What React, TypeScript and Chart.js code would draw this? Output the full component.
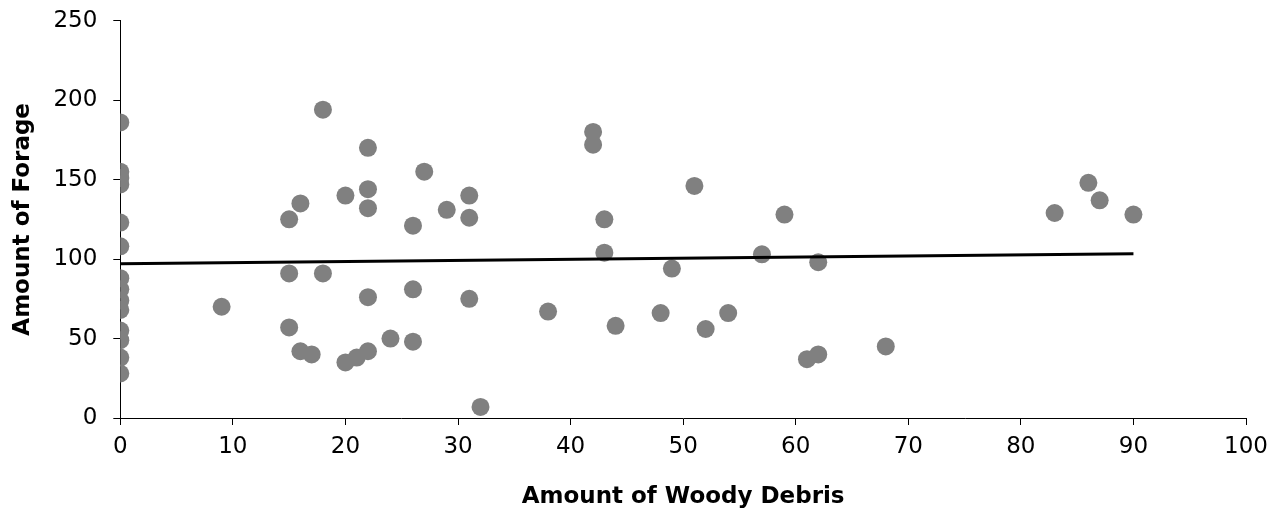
import { useEffect, useRef } from "react";
import { Chart, registerables } from "chart.js";

Chart.register(...registerables);

// Amount of Woody Debris (x) and Amount of Forage (y) for each observation
const debrisX = [
  0, 0, 0, 0, 0, 0, 0, 0, 0, 0, 0, 0, 0, 0,
  9,
  15, 15, 15,
  16, 16,
  17,
  18, 18,
  20, 20,
  21,
  22, 22, 22, 22, 22,
  24,
  26, 26, 26,
  27,
  29,
  31, 31, 31,
  32,
  38,
  42, 42,
  43, 43,
  44,
  48,
  49,
  51,
  52,
  54,
  57,
  59,
  61,
  62, 62,
  68,
  83,
  86,
  87,
  90,
];
const forageY = [
  186, 155, 151, 147, 123, 108, 88, 81, 74, 68, 55, 49, 38, 28,
  70,
  125, 91, 57,
  135, 42,
  40,
  194, 91,
  140, 35,
  38,
  170, 144, 132, 76, 42,
  50,
  121, 81, 48,
  155,
  131,
  140, 126, 75,
  7,
  67,
  180, 172,
  125, 104,
  58,
  66,
  94,
  146,
  56,
  66,
  103,
  128,
  37,
  98, 40,
  45,
  129,
  148,
  137,
  128,
];

// Linear trendline end points
const trendX = [0, 90];
const trendY = [97.1, 103.4];

const xTitle = "Amount of Woody Debris";
const yTitle = "Amount of Forage";

export default function App() {
  const canvasRef = useRef<HTMLCanvasElement | null>(null);

  useEffect(() => {
    const canvas = canvasRef.current;
    if (!canvas) return;
    const font = "'DejaVu Sans', 'Liberation Sans', Arial, sans-serif";
    const chart = new Chart(canvas, {
      type: "scatter",
      data: {
        datasets: [
          {
            type: "line",
            label: "Trend",
            data: trendX.map((x, i) => ({ x, y: trendY[i] })),
            borderColor: "#000000",
            borderWidth: 3,
            pointRadius: 0,
            pointHoverRadius: 0,
            fill: false,
            order: 0,
          },
          {
            type: "scatter",
            label: "Forage",
            data: debrisX.map((x, i) => ({ x, y: forageY[i] })),
            backgroundColor: "#808080",
            borderColor: "#808080",
            borderWidth: 0,
            pointRadius: 9,
            pointHoverRadius: 9,
            order: 1,
          },
        ],
      },
      options: {
        responsive: false,
        animation: false,
        layout: { autoPadding: false, padding: { left: 0, right: 25, top: 12.7, bottom: 0 } },
        plugins: {
          legend: { display: false },
          tooltip: { enabled: false },
        },
        scales: {
          x: {
            type: "linear",
            min: 0,
            max: 100,
            ticks: {
              stepSize: 10,
              color: "#000000",
              padding: 11,
              font: { family: font, size: 23, lineHeight: 1 },
            },
            grid: {
              display: true,
              drawOnChartArea: false,
              drawTicks: true,
              tickLength: 7,
              color: "#000000",
              lineWidth: 1,
            },
            border: { display: true, color: "#000000", width: 1 },
            title: {
              display: true,
              text: xTitle,
              color: "#000000",
              padding: { top: 0, bottom: 0 },
              font: { family: font, size: 23, weight: "bold", lineHeight: 1 },
            },
            afterFit: (scale: any) => {
              scale.height = 91;
              scale.paddingLeft = 0;
              scale.paddingRight = 0;
              scale.paddingTop = 0;
              scale.paddingBottom = 0;
            },
          },
          y: {
            type: "linear",
            min: 0,
            max: 250,
            ticks: {
              stepSize: 50,
              color: "#000000",
              padding: 16,
              font: { family: font, size: 23, lineHeight: 1 },
            },
            grid: {
              display: true,
              drawOnChartArea: false,
              drawTicks: true,
              tickLength: 7,
              color: "#000000",
              lineWidth: 1,
            },
            border: { display: true, color: "#000000", width: 1 },
            title: {
              display: true,
              text: yTitle,
              color: "#000000",
              padding: { top: 3.5, bottom: 0 },
              font: { family: font, size: 23, weight: "bold", lineHeight: 1 },
            },
            afterFit: (scale: any) => {
              scale.width = 112.3;
              scale.paddingLeft = 0;
              scale.paddingRight = 0;
              scale.paddingTop = 0;
              scale.paddingBottom = 0;
            },
          },
        },
      },
    } as any);
    return () => chart.destroy();
  }, []);

  return (
    <canvas
      ref={canvasRef}
      width={1263}
      height={501}
      style={{ display: "block", width: "1263px", height: "501px" }}
    />
  );
}
